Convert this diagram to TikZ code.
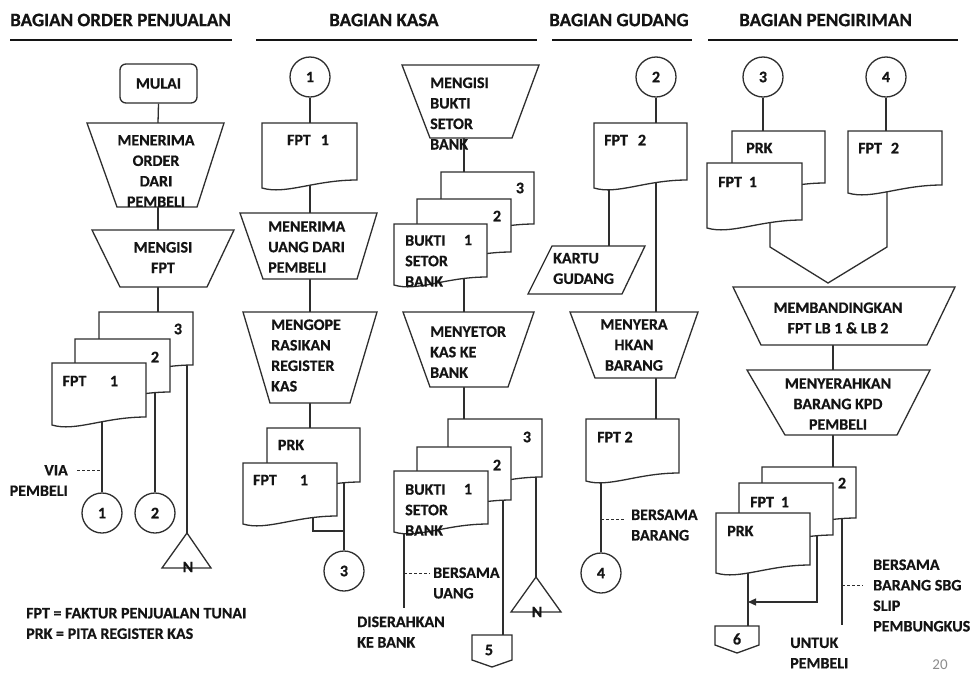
\documentclass[tikz,border=0pt]{standalone}
\usepackage{fontspec}
\setmainfont{Carlito}[BoldFeatures={FakeBold=0.6}]
\usetikzlibrary{arrows.meta,calc}
\definecolor{lc}{HTML}{2E2E2E}
\definecolor{tc}{HTML}{141414}
\tikzset{
 ln/.style={draw=lc, line width=1.3pt},
 shp/.style={draw=lc, line width=1.3pt, fill=white},
 tx/.style={font=\bfseries\fontsize{16}{20.5}\selectfont, text=tc, inner sep=0pt, align=left},
 txc/.style={tx, align=center},
 hd/.style={font=\bfseries\fontsize{19}{22}\selectfont, text=tc, inner sep=0pt, anchor=west},
 hline/.style={draw=tc, line width=2pt},
 circ/.style={shp, circle, minimum size=40pt, inner sep=0pt, font=\bfseries\fontsize{16}{18}\selectfont, text=tc},
 dsh/.style={draw=lc, line width=1pt, dash pattern=on 3pt off 2pt},
}
\newcommand\docu[4]{%
 \draw[shp] (#1,#2) -- (#3,#2) -- (#3,#4) .. controls ({#1+0.55*(#3-#1)},#4) and ({#1+0.25*(#3-#1)},{#4+15}) .. (#1,{#4+8}) -- cycle;}
\newcommand\trap[6]{%
 \draw[shp] (#1,#3) -- (#2,#3) -- (#5,#6) -- (#4,#6) -- cycle;}
\begin{document}
\begin{tikzpicture}[x=1pt,y=-1pt]
\fill[white] (0,0) rectangle (976,675);
\useasboundingbox (0,0) rectangle (976,675);

% ---------- headers
\node[hd] (h1) at (10,20) {BAGIAN ORDER PENJUALAN};
\node[hd] (h2) at (329,20) {BAGIAN KASA};
\node[hd] (h3) at (549,20) {BAGIAN GUDANG};
\node[hd] (h4) at (739,20) {BAGIAN PENGIRIMAN};
\draw[hline] (10,40) -- (232,40);
\draw[hline] (256,40) -- (537,40);
\draw[hline] (552,40) -- (692,40);
\draw[hline] (708,40) -- (958,40);

% ---------- named points
% column 1
\coordinate (a-t1n) at (158,123); \coordinate (a-t1s) at (158,207);
\coordinate (a-t2n) at (158,230); \coordinate (a-t2s) at (158,287);
\coordinate (a-d3n) at (158,312);
\coordinate (a-d1s) at (102,400); \coordinate (a-d2s) at (155,380); \coordinate (a-d3s) at (187,350);
\coordinate (a-tri) at (187,533);
\coordinate (a-via) at (77,470); \coordinate (a-viaL) at (102,470);
% column 2
\coordinate (k-d1n) at (310,123); \coordinate (k-d1s) at (310,170);
\coordinate (k-t1n) at (310,213); \coordinate (k-t1s) at (310,279);
\coordinate (k-t2n) at (310,312); \coordinate (k-t2s) at (310,403);
\coordinate (k-prkn) at (310,428); \coordinate (k-prks) at (344,470);
\coordinate (k-fpts) at (313,500); \coordinate (k-join) at (344,531);
% column 3
\coordinate (k-t3s) at (464,138); \coordinate (k-s1n) at (464,172);
\coordinate (k-s1s) at (464,265); \coordinate (k-t4n) at (464,312);
\coordinate (k-t4s) at (464,387); \coordinate (k-s2n) at (464,419);
\coordinate (k-b1s) at (404,520); \coordinate (k-bank) at (404,608);
\coordinate (k-ds1) at (404,573); \coordinate (k-ds2) at (430,573);
\coordinate (k-b2s) at (503,490); \coordinate (k-5top) at (503,635);
\coordinate (k-b3s) at (536,465); \coordinate (k-tri) at (536,577);
% column 4
\coordinate (g-d1n) at (656,123); \coordinate (g-d1a) at (609,175); \coordinate (g-d1b) at (656,170);
\coordinate (g-pn) at (609,246); \coordinate (g-t1n) at (656,312); \coordinate (g-t1s) at (656,378);
\coordinate (g-d2n) at (656,419); \coordinate (g-d2s) at (601,470);
\coordinate (g-ds1) at (601,519); \coordinate (g-ds2) at (625,519);
% column 5
\coordinate (p-prkn) at (763,131); \coordinate (p-f2n) at (886,131);
\coordinate (p-f1s) at (770,205); \coordinate (p-f1k) at (770,247);
\coordinate (p-f2s) at (887,175); \coordinate (p-f2k) at (887,247);
\coordinate (p-v) at (828,283);
\coordinate (p-t1s) at (833,345); \coordinate (p-t2n) at (833,370);
\coordinate (p-t2s) at (833,435); \coordinate (p-stn) at (833,467);
\coordinate (p-prks) at (748,550); \coordinate (p-6top) at (748,626);
\coordinate (p-fs) at (817,525); \coordinate (p-fk) at (817,602); \coordinate (p-arr) at (748,602);
\coordinate (p-2s) at (842,510); \coordinate (p-2e) at (842,625);
\coordinate (p-ds1) at (842,585); \coordinate (p-ds2) at (863,585);

% ---------- terminals and connectors (nodes)
\node[shp, rounded corners=6pt, minimum width=77pt, minimum height=39pt, inner sep=0pt,
      font=\bfseries\fontsize{16}{18}\selectfont, text=tc] (mulai) at (158.5,83.5) {MULAI};
\node[circ] (a-c1) at (102,513) {1};
\node[circ] (a-c2) at (155,513) {2};
\node[circ] (k-c1) at (310,77) {1};
\node[circ] (k-c3) at (344,571) {3};
\node[circ] (g-c2) at (656,77) {2};
\node[circ] (g-c4) at (601,573) {4};
\node[circ] (p-c3) at (763,77) {3};
\node[circ] (p-c4) at (886,77) {4};

% ---------- connectors
\draw[ln] (mulai.south) -- (a-t1n);
\draw[ln] (a-t1s) -- (a-t2n);
\draw[ln] (a-t2s) -- (a-d3n);
\draw[ln] (a-d1s) -- (a-c1.north);
\draw[ln] (a-d2s) -- (a-c2.north);
\draw[ln] (a-d3s) -- (a-tri);
\draw[dsh] (a-via) -- (a-viaL);

\draw[ln] (k-c1.south) -- (k-d1n);
\draw[ln] (k-d1s) -- (k-t1n);
\draw[ln] (k-t1s) -- (k-t2n);
\draw[ln] (k-t2s) -- (k-prkn);
\draw[ln] (k-prks) -- (k-c3.north);
\draw[ln] (k-fpts) |- (k-join);

\draw[ln] (k-t3s) -- (k-s1n);
\draw[ln] (k-s1s) -- (k-t4n);
\draw[ln] (k-t4s) -- (k-s2n);
\draw[ln] (k-b1s) -- (k-bank);
\draw[dsh] (k-ds1) -- (k-ds2);
\draw[ln] (k-b2s) -- (k-5top);
\draw[ln] (k-b3s) -- (k-tri);

\draw[ln] (g-c2.south) -- (g-d1n);
\draw[ln] (g-d1a) -- (g-pn);
\draw[ln] (g-d1b) -- (g-t1n);
\draw[ln] (g-t1s) -- (g-d2n);
\draw[ln] (g-d2s) -- (g-c4.north);
\draw[dsh] (g-ds1) -- (g-ds2);

\draw[ln] (p-c3.south) -- (p-prkn);
\draw[ln] (p-c4.south) -- (p-f2n);
\draw[ln] (p-f1s) -- (p-f1k) -- (p-v) -- (p-f2k) -- (p-f2s);
\draw[ln] (p-t1s) -- (p-t2n);
\draw[ln] (p-t2s) -- (p-stn);
\draw[ln] (p-prks) -- (p-6top);
\draw[ln, -{Triangle[length=8pt,width=7pt]}] (p-fs) -- (p-fk) -- (p-arr);
\draw[ln] (p-2s) -- (p-2e);
\draw[dsh] (p-ds1) -- (p-ds2);

% ---------- shapes
% column 1
\trap{87}{224}{123}{117}{197}{207}
\trap{92}{234}{230}{120}{207}{287}
\docu{99}{312}{193}{365}
\docu{75}{339}{170}{392}
\docu{52}{363}{146}{417}
\draw[shp] (a-tri) -- (211,568) -- (162,568) -- cycle;
% column 2
\docu{262}{123}{357}{180}
\trap{240}{377}{213}{263}{357}{279}
\trap{243}{377}{312}{270}{350}{403}
\docu{267}{428}{360}{482}
\docu{243}{463}{337}{516}
% column 3
\trap{402}{539}{65}{430}{512}{138}
\docu{441}{172}{534}{224}
\docu{417}{199}{511}{252}
\docu{394}{224}{487}{277}
\trap{403}{534}{312}{430}{508}{387}
\docu{448}{419}{542}{477}
\docu{417}{447}{511}{500}
\docu{394}{471}{488}{524}
\draw[shp] (472,635) -- (512,635) -- (512,660) -- (492,667) -- (472,660) -- cycle;
\draw[shp] (k-tri) -- (561,612) -- (511,612) -- cycle;
% column 4
\docu{594}{123}{687}{180}
\draw[shp] (552,246) -- (645,246) -- (622,294) -- (528,294) -- cycle;
\trap{570}{698}{312}{595}{675}{378}
\docu{586}{419}{679}{473}
% column 5
\docu{732}{131}{825}{183}
\docu{707}{163}{802}{220}
\docu{848}{131}{942}{185}
\trap{733}{955}{287}{761}{927}{345}
\trap{747}{930}{370}{785}{897}{435}
\docu{762}{467}{856}{518}
\docu{739}{483}{833}{535}
\docu{716}{513}{810}{565}
\draw[shp] (715,626) -- (759,626) -- (759,645) -- (737,653) -- (715,645) -- cycle;

% ---------- texts
% column 1
\node[txc] (a-t1x) at (156,171) {MENERIMA\\ORDER\\DARI\\PEMBELI};
\node[txc] (a-t2x) at (163,257.5) {MENGISI\\FPT};
\node[tx] (a-n3) at (178,329) {3};
\node[tx] (a-n2) at (155,357) {2};
\node[tx] (a-fpt) at (74.5,381) {FPT};
\node[tx] (a-n1) at (114,381) {1};
\node[tx, align=right, anchor=east] (a-vx) at (68,480.5) {VIA\\PEMBELI};
\node[tx] (a-tri-x) at (188,567) {N};
\node[tx, anchor=west] (legend) at (26,623.5) {FPT = FAKTUR PENJUALAN TUNAI\\PRK = PITA REGISTER KAS};
% column 2
\node[tx] (k-d1x) at (308,140) {FPT\hspace{10pt}1};
\node[tx, anchor=west] (k-t1x) at (268,247) {MENERIMA\\UANG DARI\\PEMBELI};
\node[tx, anchor=west] (k-t2x) at (271,355.5) {MENGOPE\\RASIKAN\\REGISTER\\KAS};
\node[tx] (k-prkx) at (291,445) {PRK};
\node[tx] (k-fptx) at (265,480) {FPT};
\node[tx] (k-n1) at (304,480) {1};
% column 3
\node[tx, anchor=west] (k-t3x) at (430,113.5) {MENGISI\\BUKTI\\SETOR\\BANK};
\node[tx] (k-s1n3) at (520,188) {3};
\node[tx] (k-s1n2) at (497,216) {2};
\node[tx, anchor=west] (k-s1x) at (405,261) {BUKTI\\SETOR\\BANK};
\node[tx] (k-s1n1) at (468,240) {1};
\node[tx, anchor=west] (k-t4x) at (430,352) {MENYETOR\\KAS KE\\BANK};
\node[tx] (k-s2n3) at (527,437) {3};
\node[tx] (k-s2n2) at (497,465) {2};
\node[tx, anchor=west] (k-s2x) at (405,510) {BUKTI\\SETOR\\BANK};
\node[tx] (k-s2n1) at (468,489) {1};
\node[tx, anchor=west] (k-bu) at (433,583) {BERSAMA\\UANG};
\node[tx, anchor=west] (k-kb) at (357,632) {DISERAHKAN\\KE BANK};
\node[tx] (k-5) at (489,650) {5};
\node[tx] (k-tri-x) at (537,612) {N};
% column 4
\node[tx, anchor=west] (g-d1x) at (604,140) {FPT\hspace{10pt}2};
\node[tx, anchor=west] (g-px) at (553,268.5) {KARTU\\GUDANG};
\node[txc] (g-t1x) at (634,345) {MENYERA\\HKAN\\BARANG};
\node[tx, anchor=west] (g-d2x) at (597,437) {FPT 2};
\node[tx, anchor=west] (g-bb) at (631,525) {BERSAMA\\BARANG};
% column 5
\node[tx, anchor=west] (p-prkx) at (746,148) {PRK};
\node[tx, anchor=west] (p-f1x) at (718,182) {FPT\hspace{7pt}1};
\node[tx, anchor=west] (p-f2x) at (858,148) {FPT\hspace{9pt}2};
\node[txc] (p-t1x) at (838,318) {MEMBANDINGKAN\\FPT LB 1 \& LB 2};
\node[txc] (p-t2x) at (838,404) {MENYERAHKAN\\BARANG KPD\\PEMBELI};
\node[tx] (p-n2) at (842,483) {2};
\node[tx, anchor=west] (p-sf1) at (750,502) {FPT\hspace{7pt}1};
\node[tx, anchor=west] (p-sprk) at (727,531) {PRK};
\node[tx, anchor=west] (p-bb) at (873,595.5) {BERSAMA\\BARANG SBG\\SLIP\\PEMBUNGKUS};
\node[tx, anchor=west] (p-up) at (790,653) {UNTUK\\PEMBELI};
\node[tx] (p-6) at (737,639) {6};
\node[font=\fontsize{15}{15}\selectfont, text=black!45, inner sep=0pt] (pg) at (940,665) {20};
\end{tikzpicture}
\end{document}
